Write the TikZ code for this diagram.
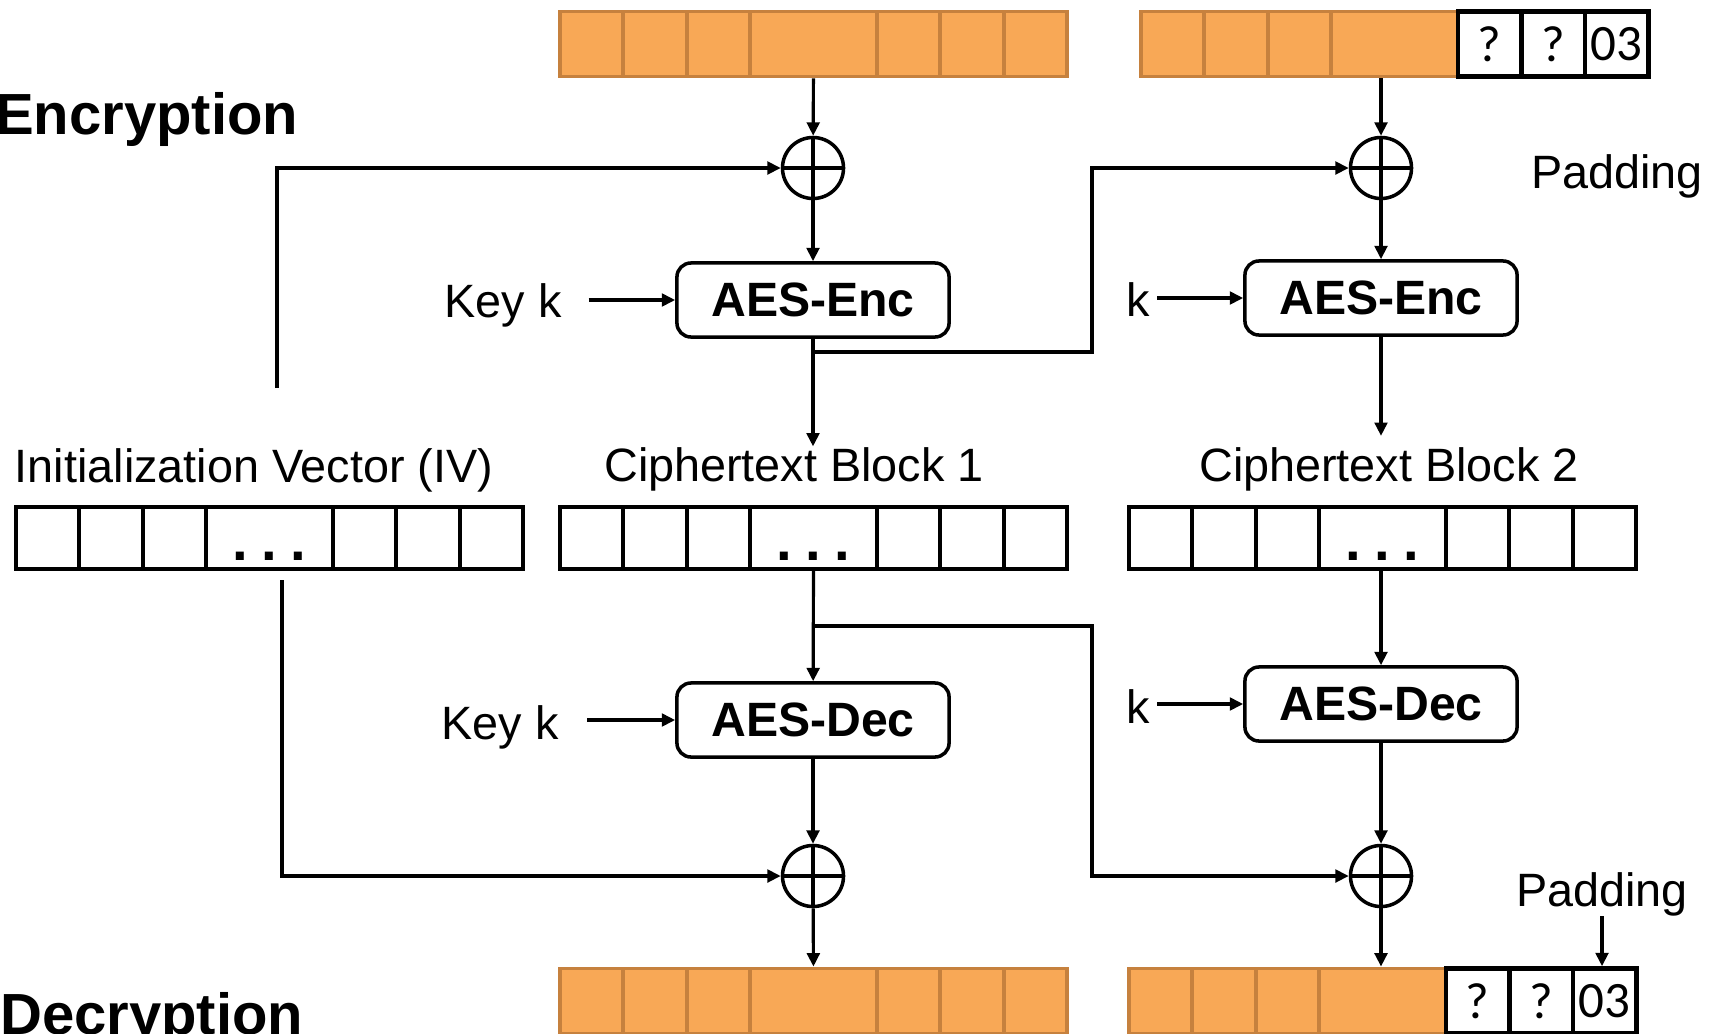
\documentclass[tikz,border=0pt]{standalone}
\usepackage{fontspec}
\setmainfont{Liberation Sans}
\newfontfamily\padfont{Carlito}
\usetikzlibrary{arrows.meta,positioning,calc}
\definecolor{blockfill}{RGB}{248,168,86}
\definecolor{blockline}{RGB}{198,129,62}
\tikzset{
  ocell/.style ={draw=blockline,fill=blockfill,line width=1.1pt,minimum height=0.65cm,inner sep=0pt},
  wcell/.style ={draw,fill=white,line width=1.1pt,minimum height=0.62cm,inner sep=0pt,font=\fontsize{16}{16}\selectfont\bfseries},
  pcell/.style ={draw,fill=white,line width=1.3pt,minimum height=0.65cm,minimum width=0.634cm,inner sep=0pt,font=\padfont\fontsize{14.5}{15}\selectfont},
  aes/.style   ={draw,rounded corners=4pt,line width=1pt,minimum width=2.72cm,minimum height=0.74cm,font=\fontsize{13.7}{14}\selectfont\bfseries},
  xor/.style   ={circle,draw,line width=1pt,minimum size=0.61cm,inner sep=0pt,
                 path picture={\draw[line width=1pt] (path picture bounding box.north) -- (path picture bounding box.south)
                                (path picture bounding box.west) -- (path picture bounding box.east);}},
  ar/.style    ={-{Triangle[length=3.8pt,width=3.6pt]},line width=0.9pt},
  lbl/.style   ={font=\fontsize{13.3}{14}\selectfont,inner sep=0pt},
  ttl/.style   ={font=\fontsize{16.5}{17}\selectfont\bfseries,inner sep=0pt},
}

\begin{document}
\begin{tikzpicture}[x=0.01cm,y=-0.01cm]
  \useasboundingbox (0,0) rectangle (1715,1033);
  \clip (0,0) rectangle (1715,1033);

  % blocks
  \foreach \r/\x/\y in {pA/560/44,dA/560/1001}
    \foreach \c/\w [count=\i] in {0.5/0.634cm,1.5/0.634cm,2.5/0.634cm,4/1.268cm,5.5/0.634cm,6.5/0.634cm,7.5/0.634cm}
      \node[ocell,minimum width=\w] (\r\i) at (\x+\c*63.4,\y) {};
  \foreach \r/\x/\y in {pB/1141/44,dB/1129/1001}{
    \foreach \c/\w [count=\i] in {0.5/0.634cm,1.5/0.634cm,2.5/0.634cm,4/1.268cm}
      \node[ocell,minimum width=\w] (\r\i) at (\x+\c*63.4,\y) {};
    \foreach \c/\t [count=\i from 5] in {5.5/?,6.5/?,7.5/03}
      \node[pcell] (\r\i) at (\x+\c*63.4,\y) {\t};
  }
  \foreach \r/\x in {iv/16,cA/560,cB/1129}
    \foreach \c/\w [count=\i] in {0.5/0.634cm,1.5/0.634cm,2.5/0.634cm,4/1.268cm,5.5/0.634cm,6.5/0.634cm,7.5/0.634cm}
      \node[wcell,minimum width=\w] (\r\i) at (\x+\c*63.4,538)
        {\ifnum\i=4 \raisebox{-6.5pt}[0pt][0pt]{.\hspace{3.8pt}.\hspace{3.8pt}.}\fi};

  % titles and labels
  \node[ttl,anchor=base east] (encT) at (299,134) {Encryption};
  \node[ttl,anchor=base east] (decT) at (304,1034) {Decryption};
  \node[lbl,anchor=base] (ivT) at (254,482) {Initialization Vector (IV)};
  \node[lbl,anchor=base] (ctA) at (794,481) {Ciphertext Block 1};
  \node[lbl,anchor=base] (ctB) at (1389,481) {Ciphertext Block 2};
  \node[lbl,anchor=base] (keyA) at (503,317) {Key k};
  \node[lbl,anchor=base] (keyB) at (1138,316) {k};
  \node[lbl,anchor=base] (keyC) at (500,739) {Key k};
  \node[lbl,anchor=base] (keyD) at (1138,723) {k};
  \node[lbl,anchor=base] (padE) at (1617,188) {Padding};
  \node[lbl,anchor=base] (padD) at (1602,906) {Padding};

  % ciphers and xors
  \node[xor] (xe1) at (813,168) {};
  \node[xor] (xe2) at (1381,168) {};
  \node[aes] (encA) at (813,300) {AES-Enc};
  \node[aes] (encB) at (1381,298) {AES-Enc};
  \node[aes] (decA) at (813,720) {AES-Dec};
  \node[aes] (decB) at (1381,704) {AES-Dec};
  \node[xor] (xd1) at (813,876) {};
  \node[xor] (xd2) at (1381,876) {};

  \coordinate (ivUp) at (277,388);
  \coordinate (ivDn) at (282,580);
  \coordinate (tapE) at (813,352);
  \coordinate (jogE) at (1092,168);
  \coordinate (tapD) at (813,626);
  \coordinate (jogD) at (1092,876);

  % encryption
  \draw[ar] (pA4) -- (xe1);
  \draw[ar] (xe1) -- (encA);
  \draw[ar] (encA) -- (encA |- ctA.north);
  \draw[ar] (ivUp) |- (xe1);
  \draw[ar] (tapE) -| (jogE) -- (xe2);
  \draw[ar] (xe2 |- pB4.south) -- (xe2);
  \draw[ar] (xe2) -- (encB);
  \draw[ar,shorten >=3pt] (encB) -- (encB |- ctB.north);
  \draw[ar,shorten <=7.5pt] (keyA.east |- encA) -- (encA);
  \draw[ar,shorten <=2pt] (keyB.east |- encB) -- (encB);

  % decryption
  \draw[ar] (cA4) -- (decA);
  \draw[ar] (tapD) -| (jogD) -- (xd2);
  \draw[ar] (decA) -- (xd1);
  \draw[ar] (xd1) -- (dA4);
  \draw[ar] (ivDn) |- (xd1);
  \draw[ar] (decB |- cB4.south) -- (decB);
  \draw[ar] (decB) -- (xd2);
  \draw[ar] (xd2) -- (xd2 |- dB4.north);
  \draw[ar,shorten <=8pt] (keyC.east |- decA) -- (decA);
  \draw[ar,shorten <=2pt] (keyD.east |- decB) -- (decB);
  \draw[ar] (padD) -- (padD |- dB7.north);
\end{tikzpicture}
\end{document}
